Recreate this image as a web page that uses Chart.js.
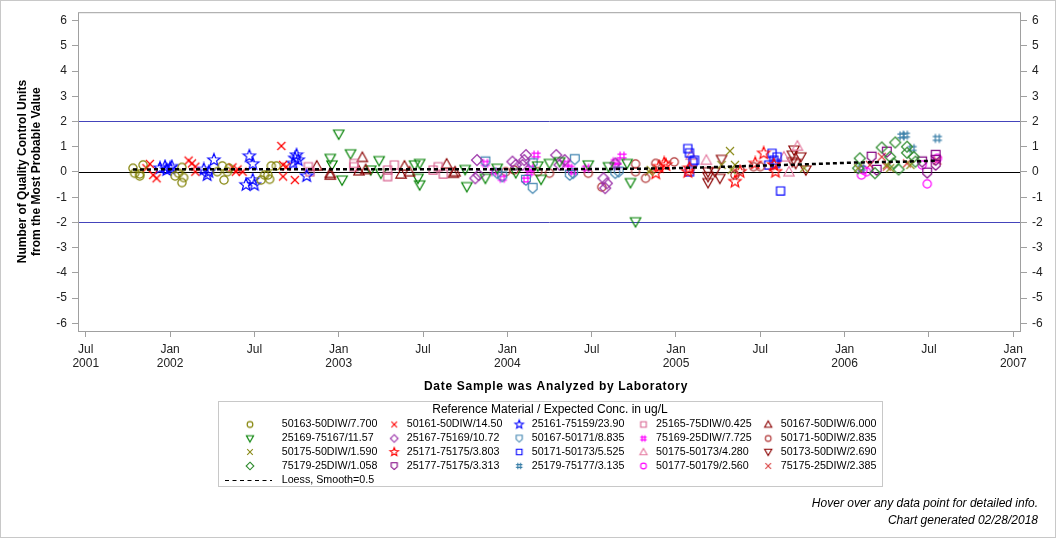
<!DOCTYPE html>
<html>
<head>
<meta charset="utf-8">
<script src="https://cdn.jsdelivr.net/npm/chart.js@4.4.1/dist/chart.umd.min.js"></script>
<style>
  html, body { margin: 0; padding: 0; background: #fff; }
  canvas { display: block; }
</style>
</head>
<body>
<canvas id="qcChart" width="1056" height="538"></canvas>
<script>
// axis ticks (decimal years / QC units)
const xTicks = [2001.5, 2002, 2002.5, 2003, 2003.5, 2004, 2004.5, 2005, 2005.5, 2006, 2006.5, 2007];
const yTicks = [-6, -5, -4, -3, -2, -1, 0, 1, 2, 3, 4, 5, 6];
const refValues = [-2, 0, 2];

// 50163-50DIW/7.700
const a50163X = [2001.78, 2001.79, 2001.82, 2001.82, 2001.84, 2002.03, 2002.05, 2002.07, 2002.08, 2002.07, 2002.28, 2002.31, 2002.32, 2002.34, 2002.35, 2002.54, 2002.56, 2002.58, 2002.59, 2002.60, 2002.63];
const a50163Y = [0.15, -0.05, -0.16, -0.08, 0.28, -0.16, -0.05, -0.42, -0.22, 0.18, 0.01, 0.24, -0.32, 0.01, 0.15, -0.32, -0.12, -0.12, -0.29, 0.24, 0.24];
// 50161-50DIW/14.50
const b50161X = [2001.86, 2001.88, 2001.90, 2001.92, 2002.11, 2002.13, 2002.15, 2002.15, 2002.37, 2002.39, 2002.40, 2002.43, 2002.66, 2002.67, 2002.67, 2002.69, 2002.74];
const b50161Y = [0.15, 0.32, -0.12, -0.25, 0.45, 0.34, 0.01, 0.21, 0.18, 0.01, 0.10, 0.01, 1.03, 0.28, -0.18, 0.21, -0.32];
// 25161-75159/23.90
const c25161X = [2001.94, 2001.97, 2001.98, 2002.00, 2002.01, 2002.20, 2002.22, 2002.23, 2002.26, 2002.45, 2002.47, 2002.49, 2002.49, 2002.50, 2002.73, 2002.74, 2002.75, 2002.76, 2002.81];
const c25161Y = [0.15, 0.21, 0.08, 0.15, 0.21, 0.10, -0.12, 0.01, 0.47, -0.51, 0.63, 0.32, -0.32, -0.51, 0.34, 0.54, 0.67, 0.47, -0.16];
// 25165-75DIW/0.425
const d25165X = [2002.82, 2002.83, 2003.09, 2003.09, 2003.29, 2003.29, 2003.33, 2003.56, 2003.59, 2003.62];
const d25165Y = [0.21, 0.01, 0.34, 0.21, 0.08, -0.18, 0.28, 0.08, 0.21, -0.08];
// 50167-50DIW/6.000
const e50167X = [2002.87, 2002.95, 2002.95, 2003.12, 2003.14, 2003.16, 2003.37, 2003.39, 2003.42, 2003.64, 2003.68, 2003.69];
const e50167Y = [0.24, -0.12, -0.05, 0.05, 0.58, 0.10, -0.08, 0.24, 0.01, 0.32, -0.05, 0.01];
// 25169-75167/11.57
const f25169X = [2002.95, 2002.96, 2003.00, 2003.02, 2003.07, 2003.19, 2003.24, 2003.25, 2003.45, 2003.47, 2003.48, 2003.48, 2003.75, 2003.76, 2003.87, 2003.94, 2004.05, 2004.18, 2004.20, 2004.25, 2004.31, 2004.48, 2004.60, 2004.71, 2004.73, 2004.76];
const f25169Y = [0.54, 0.28, 1.50, -0.32, 0.72, 0.08, 0.45, -0.05, 0.28, -0.25, 0.34, -0.51, 0.10, -0.58, -0.25, 0.15, -0.03, 0.24, -0.29, 0.34, 0.41, 0.28, 0.21, 0.34, -0.42, -1.97];
// 25167-75169/10.72
const g25167X = [2003.81, 2003.82, 2003.83, 2004.03, 2004.05, 2004.09, 2004.10, 2004.11, 2004.29, 2004.31, 2004.34, 2004.57, 2004.58, 2004.59, 2004.64];
const g25167Y = [-0.25, 0.47, -0.12, 0.41, 0.28, 0.28, 0.47, 0.67, 0.67, 0.28, 0.47, -0.25, -0.64, -0.45, 0.34];
// 50167-50171/8.835
const h50167X = [2003.87, 2003.94, 2003.97, 2004.11, 2004.15, 2004.15, 2004.37, 2004.39, 2004.40, 2004.64, 2004.66];
const h50167Y = [0.41, -0.05, -0.18, -0.32, -0.64, 0.34, -0.12, -0.05, 0.50, -0.05, 0.01];
// 75169-25DIW/7.725
const i75169X = [2003.87, 2003.92, 2003.97, 2004.11, 2004.13, 2004.14, 2004.17, 2004.35, 2004.37, 2004.39, 2004.47, 2004.64, 2004.65, 2004.68];
const i75169Y = [0.34, 0.01, -0.25, -0.32, -0.03, 0.15, 0.67, 0.34, 0.15, 0.01, 0.15, 0.41, 0.24, 0.63];
// 50171-50DIW/2.835
const j50171X = [2003.99, 2004.04, 2004.18, 2004.25, 2004.48, 2004.56, 2004.76, 2004.76, 2004.82, 2004.88, 2004.99, 2005.35, 2005.38, 2005.46, 2005.50];
const j50171Y = [0.01, 0.08, 0.01, -0.05, -0.05, -0.60, 0.32, 0.01, -0.25, 0.34, 0.40, -0.12, 0.08, 0.21, 0.21];
// 50175-50DIW/1.590
const k50175X = [2004.84, 2004.85, 2005.27, 2005.32, 2005.33, 2005.35, 2005.76, 2006.08, 2006.25, 2006.27, 2006.39];
const k50175Y = [0.01, 0.08, 0.28, 0.83, 0.08, 0.28, 0.15, 0.15, 0.28, 0.15, 0.28];
// 25171-75175/3.803
const l25171X = [2004.88, 2004.90, 2004.93, 2004.94, 2005.07, 2005.08, 2005.35, 2005.38, 2005.47, 2005.52, 2005.58, 2005.59];
const l25171Y = [-0.05, 0.21, 0.34, 0.28, 0.01, 0.15, -0.38, 0.01, 0.34, 0.74, 0.28, 0.01];
// 50171-50173/5.525
const m50171X = [2005.07, 2005.08, 2005.08, 2005.10, 2005.11, 2005.55, 2005.57, 2005.58, 2005.59, 2005.60, 2005.62];
const m50171Y = [0.93, 0.76, 0.01, 0.41, 0.47, 0.28, 0.74, 0.47, 0.34, 0.60, -0.75];
// 50175-50173/4.280
const n50175X = [2005.09, 2005.18, 2005.64, 2005.67, 2005.72];
const n50175Y = [0.67, 0.47, 0.60, 0.01, 1.03];
// 50173-50DIW/2.690
const o50173X = [2005.19, 2005.19, 2005.19, 2005.23, 2005.26, 2005.27, 2005.69, 2005.69, 2005.70, 2005.71, 2005.74, 2005.77];
const o50173Y = [0.01, -0.18, -0.42, 0.01, -0.25, 0.50, 0.67, 0.41, 0.87, 0.34, 0.60, 0.08];
// 75179-25DIW/1.058
const p75179X = [2006.08, 2006.09, 2006.18, 2006.22, 2006.27, 2006.29, 2006.30, 2006.32, 2006.37, 2006.37, 2006.41, 2006.42];
const p75179Y = [0.15, 0.54, -0.05, 0.97, 0.60, 0.34, 1.17, 0.10, 1.00, 0.76, 0.60, 0.41];
// 25177-75175/3.313
const q25177X = [2006.16, 2006.19, 2006.25, 2006.46, 2006.49, 2006.54, 2006.54, 2006.54];
const q25177Y = [0.60, 0.08, 0.80, 0.41, -0.03, 0.67, 0.47, 0.28];
// 25179-75177/3.135
const r25179X = [2006.10, 2006.34, 2006.36, 2006.40, 2006.55];
const r25179Y = [0.15, 1.43, 1.46, 0.93, 1.33];
// 50177-50179/2.560
const s50177X = [2006.10, 2006.11, 2006.13, 2006.46, 2006.49, 2006.55];
const s50177Y = [-0.12, 0.08, 0.01, 0.28, -0.47, 0.54];
// 75175-25DIW/2.385
const t75175X = [2006.15, 2006.22, 2006.25, 2006.37, 2006.55];
const t75175Y = [0.28, 0.60, 0.21, 0.34, 0.45];
// loess fit
const loessX = [2001.78, 2002.2, 2002.7, 2003.2, 2003.7, 2004.2, 2004.6, 2004.9, 2005.2, 2005.45, 2005.75, 2006.05, 2006.35, 2006.55];
const loessY = [0.10, 0.11, 0.11, 0.11, 0.11, 0.11, 0.12, 0.14, 0.19, 0.24, 0.30, 0.37, 0.41, 0.45];

// legend order is row-major, 5 columns
const series = [
  { label: "50163-50DIW/7.700", x: a50163X, y: a50163Y, shape: "circle", color: "#808000" },
  { label: "50161-50DIW/14.50", x: b50161X, y: b50161Y, shape: "x", color: "#ff0000" },
  { label: "25161-75159/23.90", x: c25161X, y: c25161Y, shape: "star", color: "#0000ff" },
  { label: "25165-75DIW/0.425", x: d25165X, y: d25165Y, shape: "square", color: "#d8608e" },
  { label: "50167-50DIW/6.000", x: e50167X, y: e50167Y, shape: "triUp", color: "#8b0000" },
  { label: "25169-75167/11.57", x: f25169X, y: f25169Y, shape: "triDown", color: "#008000" },
  { label: "25167-75169/10.72", x: g25167X, y: g25167Y, shape: "diamond", color: "#9a30a8" },
  { label: "50167-50171/8.835", x: h50167X, y: h50167Y, shape: "shield", color: "#3f84b0" },
  { label: "75169-25DIW/7.725", x: i75169X, y: i75169Y, shape: "hash", color: "#ff00ff" },
  { label: "50171-50DIW/2.835", x: j50171X, y: j50171Y, shape: "circle", color: "#b03434" },
  { label: "50175-50DIW/1.590", x: k50175X, y: k50175Y, shape: "x", color: "#8b8b1a" },
  { label: "25171-75175/3.803", x: l25171X, y: l25171Y, shape: "star", color: "#ff0000" },
  { label: "50171-50173/5.525", x: m50171X, y: m50171Y, shape: "square", color: "#0000ff" },
  { label: "50175-50173/4.280", x: n50175X, y: n50175Y, shape: "triUp", color: "#e57aa0" },
  { label: "50173-50DIW/2.690", x: o50173X, y: o50173Y, shape: "triDown", color: "#8b0000" },
  { label: "75179-25DIW/1.058", x: p75179X, y: p75179Y, shape: "diamond", color: "#2e8b2e" },
  { label: "25177-75175/3.313", x: q25177X, y: q25177Y, shape: "shield", color: "#800080" },
  { label: "25179-75177/3.135", x: r25179X, y: r25179Y, shape: "hash", color: "#3a7fa8" },
  { label: "50177-50179/2.560", x: s50177X, y: s50177Y, shape: "circle", color: "#ff00ff" },
  { label: "75175-25DIW/2.385", x: t75175X, y: t75175Y, shape: "x", color: "#d94040" }
];

const FONT = '"Liberation Sans", Arial, sans-serif';
Chart.defaults.font.family = FONT;

function makeMarker(shape, color, s, lw) {
  const c = document.createElement("canvas");
  c.width = 16; c.height = 16;
  const g = c.getContext("2d");
  g.translate(8, 8);
  g.scale(s, s);
  g.strokeStyle = color;
  g.lineWidth = lw / s;
  g.beginPath();
  if (shape === "circle") {
    g.arc(0, 0, 3.6, 0, Math.PI * 2);
  } else if (shape === "x") {
    g.moveTo(-3.5, -3.5); g.lineTo(3.5, 3.5);
    g.moveTo(-3.5, 3.5); g.lineTo(3.5, -3.5);
  } else if (shape === "star") {
    for (let i = 0; i < 10; i++) {
      const r = i % 2 === 0 ? 5.6 : 2.4;
      const a = -Math.PI / 2 + i * Math.PI / 5;
      if (i === 0) g.moveTo(r * Math.cos(a), r * Math.sin(a));
      else g.lineTo(r * Math.cos(a), r * Math.sin(a));
    }
    g.closePath();
  } else if (shape === "square") {
    g.rect(-3.5, -3.5, 7, 7);
  } else if (shape === "triUp") {
    g.moveTo(0, -4.5); g.lineTo(4.5, 3.5); g.lineTo(-4.5, 3.5); g.closePath();
  } else if (shape === "triDown") {
    g.moveTo(0, 4.5); g.lineTo(4.5, -3.5); g.lineTo(-4.5, -3.5); g.closePath();
  } else if (shape === "diamond") {
    g.moveTo(0, -4.8); g.lineTo(4.8, 0); g.lineTo(0, 4.8); g.lineTo(-4.8, 0); g.closePath();
  } else if (shape === "shield") {
    g.moveTo(-3.8, -4); g.lineTo(3.8, -4); g.lineTo(3.8, 1); g.lineTo(0, 4.5); g.lineTo(-3.8, 1); g.closePath();
  } else if (shape === "hash") {
    g.moveTo(-1.7, -4); g.lineTo(-1.7, 4);
    g.moveTo(1.7, -4); g.lineTo(1.7, 4);
    g.moveTo(-4, -1.7); g.lineTo(4, -1.7);
    g.moveTo(-4, 1.7); g.lineTo(4, 1.7);
  }
  g.stroke();
  return c;
}

series.forEach(s => {
  s.marker = makeMarker(s.shape, s.color, 1.15, 1.2);
  s.legendMarker = makeMarker(s.shape, s.color, 0.8, 1.1);
});

const datasets = [{
  type: "line",
  label: "Loess, Smooth=0.5",
  data: loessX.map((x, i) => ({ x, y: loessY[i] })),
  borderColor: "#000",
  borderWidth: 2.5,
  borderDash: [4, 3],
  pointRadius: 0,
  fill: false,
  cubicInterpolationMode: "monotone"
}].concat(series.map(s => ({
  label: s.label,
  data: s.x.map((x, i) => ({ x, y: s.y[i] })),
  pointStyle: s.marker,
  pointRadius: 4,
  borderColor: s.color,
  backgroundColor: "transparent",
  showLine: false
})));

const decor = {
  id: "decor",
  beforeDatasetsDraw(chart) {
    const { ctx, chartArea: ca, scales } = chart;
    ctx.save();
    refValues.forEach(v => {
      const py = Math.round(scales.y.getPixelForValue(v)) + 0.5;
      ctx.strokeStyle = v === 0 ? "#000" : "#4444bb";
      ctx.lineWidth = 1;
      ctx.beginPath();
      ctx.moveTo(ca.left, py);
      ctx.lineTo(ca.right, py);
      ctx.stroke();
    });
    ctx.restore();
  },
  afterDraw(chart) {
    const { ctx, chartArea: ca } = chart;
    ctx.save();
    // plot frame and outer border
    ctx.strokeStyle = "#a0a0a0";
    ctx.lineWidth = 1;
    ctx.strokeRect(ca.left + 0.5, ca.top + 0.5, ca.right - ca.left - 1, ca.bottom - ca.top);
    ctx.strokeStyle = "#c8c8c8";
    ctx.strokeRect(0.5, 0.5, 1055, 537);

    // axis titles
    ctx.fillStyle = "#000";
    ctx.font = "bold 12px " + FONT;
    ctx.textAlign = "center";
    ctx.textBaseline = "alphabetic";
    ctx.letterSpacing = "0.7px";
    ctx.fillText("Date Sample was Analyzed by Laboratory", 556, 390);
    ctx.letterSpacing = "0px";
    ctx.save();
    ctx.translate(0, (ca.top + ca.bottom) / 2);
    ctx.rotate(-Math.PI / 2);
    ctx.fillText("Number of Quality Control Units", 0, 26);
    ctx.fillText("from the Most Probable Value", 0, 40);
    ctx.restore();

    // legend
    ctx.strokeStyle = "#c8c8c8";
    ctx.strokeRect(218.5, 401.5, 664, 85);
    ctx.font = "12px " + FONT;
    ctx.textBaseline = "middle";
    ctx.fillText("Reference Material / Expected Conc. in ug/L", 550, 410);
    ctx.font = "10.7px " + FONT;
    ctx.textAlign = "left";
    const textX = [281.7, 406.7, 531.7, 656, 780.7];
    const rowY = [424.5, 438.5, 452, 466, 480];
    series.forEach((s, i) => {
      const col = i % 5, row = Math.floor(i / 5);
      const mx = col === 0 ? 250 : textX[col] - 12.5;
      ctx.drawImage(s.legendMarker, mx - 8, rowY[row] - 8);
      ctx.fillText(s.label, textX[col], rowY[row]);
    });
    ctx.strokeStyle = "#000";
    ctx.setLineDash([4, 3.5]);
    ctx.beginPath();
    ctx.moveTo(225, 480.5);
    ctx.lineTo(272, 480.5);
    ctx.stroke();
    ctx.setLineDash([]);
    ctx.fillText("Loess, Smooth=0.5", textX[0], rowY[4]);

    // footnotes
    ctx.font = "italic 12px " + FONT;
    ctx.textAlign = "right";
    ctx.fillText("Hover over any data point for detailed info.", 1038, 504);
    ctx.fillText("Chart generated 02/28/2018", 1038, 520.5);
    ctx.restore();
  }
};

const yAxisBase = {
  type: "linear",
  min: -6.3,
  max: 6.33,
  afterBuildTicks: scale => { scale.ticks = yTicks.map(v => ({ value: v })); },
  grid: { drawOnChartArea: false, drawTicks: true, tickLength: 6, color: "#a0a0a0" },
  border: { display: false },
  ticks: { padding: 5, color: "#222", font: { size: 12 } }
};

new Chart(document.getElementById("qcChart"), {
  type: "scatter",
  data: { datasets },
  options: {
    responsive: false,
    animation: false,
    events: [],
    layout: { padding: { top: 12, left: 0, right: 0, bottom: 0 } },
    plugins: { legend: { display: false }, tooltip: { enabled: false } },
    scales: {
      x: {
        type: "linear",
        min: 2001.454,
        max: 2007.046,
        afterBuildTicks: scale => { scale.ticks = xTicks.map(v => ({ value: v })); },
        afterFit: scale => { scale.height = 207; },
        grid: { drawOnChartArea: false, drawTicks: true, tickLength: 6, color: "#a0a0a0" },
        border: { display: false },
        ticks: {
          padding: 5,
          color: "#222",
          font: { size: 12 },
          maxRotation: 0,
          autoSkip: false,
          callback: v => {
            if (Math.abs(v - Math.round(v)) < 0.01) return ["Jan", String(Math.round(v))];
            return v < 2002 ? ["Jul", String(Math.floor(v))] : "Jul";
          }
        }
      },
      y: Object.assign({}, yAxisBase, { position: "left", afterFit: scale => { scale.width = 78; } }),
      y2: Object.assign({}, yAxisBase, { position: "right", afterFit: scale => { scale.width = 35; } })
    }
  },
  plugins: [decor]
});
</script>
</body>
</html>
